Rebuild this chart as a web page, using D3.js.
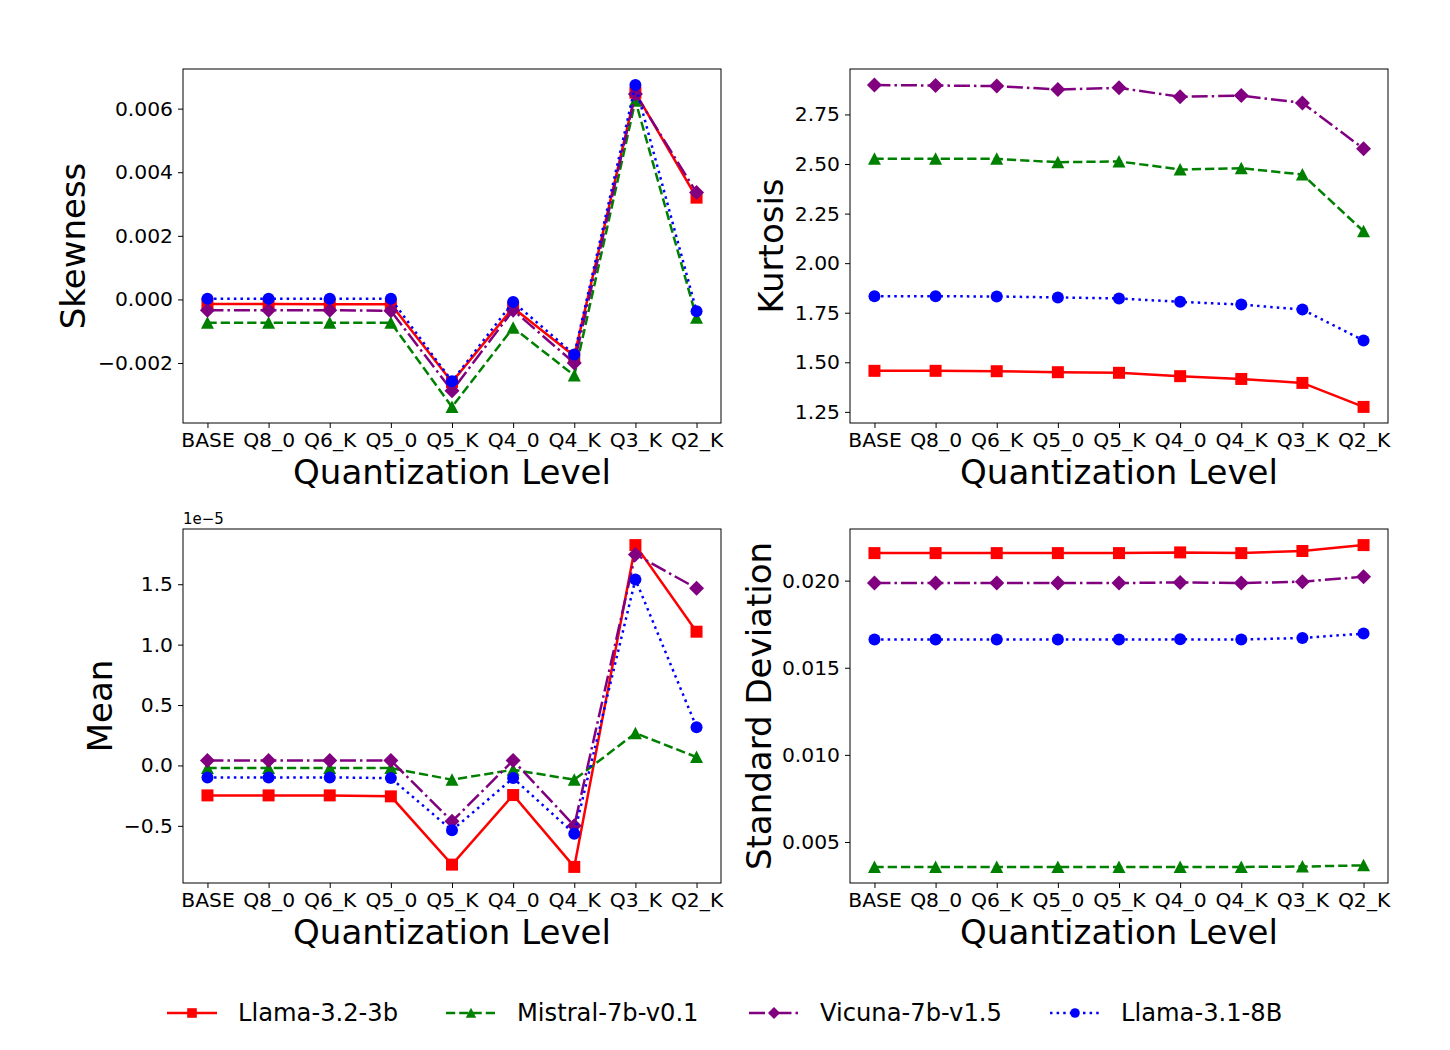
<!DOCTYPE html>
<html>
<head>
<meta charset="utf-8">
<script src="https://cdn.jsdelivr.net/npm/d3@7"></script>
<style>
  body { margin: 0; background: #fff; }
  text { font-family: "DejaVu Sans", sans-serif; fill: #000; }
</style>
</head>
<body>
<div id="chart"></div>
<script>
const width = 1450;
const height = 1050;

// quantization levels on the x axis
const levels = ["BASE", "Q8_0", "Q6_K", "Q5_0", "Q5_K", "Q4_0", "Q4_K", "Q3_K", "Q2_K"];
const models = ["Llama-3.2-3b", "Mistral-7b-v0.1", "Vicuna-7b-v1.5", "Llama-3.1-8B"];

// values per model, same order as models
const skewness = [
  [-0.00014, -0.00014, -0.00015, -0.00015, -0.00260, -0.00026, -0.00178, 0.00650, 0.00320],
  [-0.00073, -0.00073, -0.00073, -0.00073, -0.00338, -0.00089, -0.00239, 0.00625, -0.00058],
  [-0.00034, -0.00034, -0.00034, -0.00036, -0.00287, -0.00034, -0.00200, 0.00646, 0.00336],
  [0.00002, 0.00002, 0.00002, 0.00002, -0.00257, -0.00008, -0.00173, 0.00674, -0.00037]
];
const kurtosis = [
  [1.457, 1.457, 1.455, 1.450, 1.447, 1.430, 1.416, 1.396, 1.275],
  [2.526, 2.526, 2.526, 2.509, 2.513, 2.472, 2.479, 2.447, 2.161],
  [2.898, 2.896, 2.893, 2.876, 2.884, 2.839, 2.845, 2.808, 2.577],
  [1.833, 1.833, 1.832, 1.827, 1.822, 1.805, 1.791, 1.766, 1.610]
];
// mean, in units of 1e-5
const mean = [
  [-0.248, -0.248, -0.248, -0.256, -0.821, -0.245, -0.840, 1.824, 1.107],
  [-0.022, -0.022, -0.022, -0.022, -0.118, -0.036, -0.118, 0.267, 0.069],
  [0.041, 0.041, 0.041, 0.041, -0.463, 0.041, -0.499, 1.747, 1.466],
  [-0.099, -0.099, -0.099, -0.105, -0.537, -0.105, -0.565, 1.540, 0.317]
];
const stdDev = [
  [0.02158, 0.02158, 0.02158, 0.02158, 0.02158, 0.02162, 0.02158, 0.02170, 0.02204],
  [0.00357, 0.00357, 0.00357, 0.00357, 0.00357, 0.00357, 0.00357, 0.00359, 0.00366],
  [0.01986, 0.01986, 0.01986, 0.01986, 0.01986, 0.01990, 0.01986, 0.01994, 0.02023],
  [0.01662, 0.01662, 0.01662, 0.01662, 0.01662, 0.01663, 0.01662, 0.01671, 0.01696]
];

const skewTicks = [-0.002, 0.000, 0.002, 0.004, 0.006];
const kurtTicks = [1.25, 1.50, 1.75, 2.00, 2.25, 2.50, 2.75];
const meanTicks = [-0.5, 0.0, 0.5, 1.0, 1.5];
const stdTicks = [0.005, 0.010, 0.015, 0.020];

const colors = ["#ff0000", "#008000", "#800080", "#0000ff"];
const dashes = [null, "9.25,4", "16,4,2.5,4", "2.5,4.1"];
const markers = ["square", "triangle", "diamond", "circle"];

const svg = d3.select("#chart").append("svg")
  .attr("width", width)
  .attr("height", height);

function markerPath(kind, s = 1) {
  if (kind === "square") return `M${-6 * s},${-6 * s}H${6 * s}V${6 * s}H${-6 * s}Z`;
  if (kind === "triangle") return `M0,${-6.5 * s}L${6.5 * s},${6 * s}L${-6.5 * s},${6 * s}Z`;
  if (kind === "diamond") return `M0,${-7.5 * s}L${7.5 * s},0L0,${7.5 * s}L${-7.5 * s},0Z`;
  return d3.symbol(d3.symbolCircle, Math.PI * 36 * s * s)();
}

const fmtMinus = f => v => f(v).replace("-", "\u2212");

function panel(box, series, ticks, fmt, ylabel, ylabelX, offsetText) {
  const g = svg.append("g");

  // matplotlib default 5% margin each side
  const step = (box.x1 - box.x0) / (levels.length - 1 + 0.8);
  const x = d3.scalePoint()
    .domain(levels)
    .range([box.x0 + 0.4 * step, box.x1 - 0.4 * step]);

  const all = series.flat();
  const lo = d3.min(all), hi = d3.max(all);
  const pad = (hi - lo) * 0.05;
  const y = d3.scaleLinear()
    .domain([lo - pad, hi + pad])
    .range([box.y1, box.y0]);

  const line = d3.line()
    .x((d, i) => x(levels[i]))
    .y(d => y(d));

  series.forEach((vals, k) => {
    g.append("path")
      .attr("d", line(vals))
      .attr("fill", "none")
      .attr("stroke", colors[k])
      .attr("stroke-width", 2.5)
      .attr("stroke-dasharray", dashes[k]);
    g.selectAll(null)
      .data(vals)
      .enter()
      .append("path")
      .attr("d", markerPath(markers[k]))
      .attr("transform", (d, i) => `translate(${x(levels[i])},${y(d)})`)
      .attr("fill", colors[k]);
  });

  // frame
  g.append("rect")
    .attr("x", box.x0)
    .attr("y", box.y0)
    .attr("width", box.x1 - box.x0)
    .attr("height", box.y1 - box.y0)
    .attr("fill", "none")
    .attr("stroke", "#000")
    .attr("stroke-width", 1);

  const xAxis = g.append("g")
    .attr("transform", `translate(0,${box.y1})`)
    .call(d3.axisBottom(x).tickSize(5).tickPadding(4));
  xAxis.select(".domain").remove();
  xAxis.selectAll("text").style("font-size", "20.3px").attr("dy", "0.75em");

  const yAxis = g.append("g")
    .attr("transform", `translate(${box.x0},0)`)
    .call(d3.axisLeft(y).tickValues(ticks).tickFormat(fmtMinus(d3.format(fmt))).tickSize(5).tickPadding(5));
  yAxis.select(".domain").remove();
  yAxis.selectAll("text").style("font-size", "20.3px");
  g.selectAll(".tick line").attr("stroke", "#000");

  g.append("text")
    .attr("x", (box.x0 + box.x1) / 2)
    .attr("y", box.y1 + 61)
    .attr("text-anchor", "middle")
    .style("font-size", "34px")
    .text("Quantization Level");

  g.append("text")
    .attr("transform", `translate(${ylabelX},${(box.y0 + box.y1) / 2}) rotate(-90)`)
    .attr("text-anchor", "middle")
    .attr("dy", "0.35em")
    .style("font-size", "34px")
    .text(ylabel);

  if (offsetText) {
    g.append("text")
      .attr("x", box.x0)
      .attr("y", box.y0 - 5)
      .style("font-size", "15px")
      .text(offsetText);
  }
}

panel({ x0: 183, x1: 721, y0: 69, y1: 423 }, skewness, skewTicks, ".3f", "Skewness", 73);
panel({ x0: 850, x1: 1388, y0: 69, y1: 423 }, kurtosis, kurtTicks, ".2f", "Kurtosis", 771);
panel({ x0: 183, x1: 721, y0: 529, y1: 883 }, mean, meanTicks, ".1f", "Mean", 100, "1e\u22125");
panel({ x0: 850, x1: 1388, y0: 529, y1: 883 }, stdDev, stdTicks, ".3f", "Standard Deviation", 759);

// legend
const legendX = [167, 446, 749, 1050];
const legend = svg.append("g").attr("transform", "translate(0,1013)");
models.forEach((name, k) => {
  const lg = legend.append("g").attr("transform", `translate(${legendX[k]},0)`);
  lg.append("line")
    .attr("x1", 0).attr("x2", 50)
    .attr("y1", 0).attr("y2", 0)
    .attr("stroke", colors[k])
    .attr("stroke-width", 2.5)
    .attr("stroke-dasharray", dashes[k]);
  lg.append("path")
    .attr("d", markerPath(markers[k], 0.8))
    .attr("transform", "translate(25,0)")
    .attr("fill", colors[k]);
  lg.append("text")
    .attr("x", 71)
    .attr("dy", "0.35em")
    .style("font-size", "24.2px")
    .text(name);
});
</script>
</body>
</html>
